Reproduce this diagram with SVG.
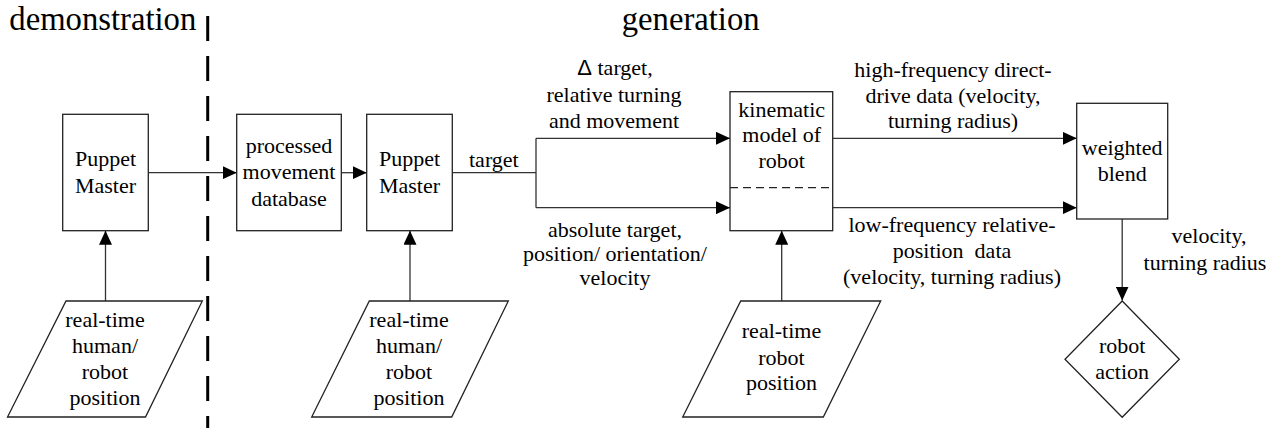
<svg xmlns="http://www.w3.org/2000/svg" width="1272" height="428" viewBox="0 0 1272 428" font-family="Liberation Serif, Tinos, Times New Roman, DejaVu Serif, serif">
<style>
text{font-family:"Liberation Serif",Tinos,"Times New Roman","DejaVu Serif",serif;font-size:22px;fill:#000}
.t{text-anchor:middle}
.title{font-size:32.7px}
.box{fill:#fff;stroke:#222;stroke-width:1.3}
.ln{fill:none;stroke:#333;stroke-width:1.3}
.sep{fill:none;stroke:#000;stroke-width:3;stroke-dasharray:25 15}
.dash{fill:none;stroke:#222;stroke-width:1.3;stroke-dasharray:8 5}
</style>
<defs>
<marker id="ah" markerUnits="userSpaceOnUse" markerWidth="14" markerHeight="13" refX="14" refY="6.5" orient="auto">
<path d="M0,0 L14,6.5 L0,13 z" fill="#000"/>
</marker>
</defs>
<g id="titles">
<text class="title" x="9.3" y="30">demonstration</text>
<text class="title" x="621.7" y="30">generation</text>
<line class="sep" x1="207.7" y1="16" x2="207.7" y2="428"/>
</g>
<g id="connectors">
<line class="ln" x1="148.3" y1="172.7" x2="236.7" y2="172.7" marker-end="url(#ah)"/>
<line class="ln" x1="341.3" y1="172.7" x2="366.7" y2="172.7" marker-end="url(#ah)"/>
<path class="ln" d="M452.3,172.7 H536 M536,138.3 V207.7"/>
<line class="ln" x1="536" y1="138.3" x2="730" y2="138.3" marker-end="url(#ah)"/>
<line class="ln" x1="536" y1="207.7" x2="730" y2="207.7" marker-end="url(#ah)"/>
<line class="ln" x1="832.7" y1="138.3" x2="1076.7" y2="138.3" marker-end="url(#ah)"/>
<line class="ln" x1="832.7" y1="207.7" x2="1076.7" y2="207.7" marker-end="url(#ah)"/>
<line class="ln" x1="1122.2" y1="219" x2="1122.2" y2="300.5" marker-end="url(#ah)"/>
<line class="ln" x1="105.5" y1="301" x2="105.5" y2="230.7" marker-end="url(#ah)"/>
<line class="ln" x1="410" y1="301" x2="410" y2="230.7" marker-end="url(#ah)"/>
<line class="ln" x1="781.7" y1="301" x2="781.7" y2="230.7" marker-end="url(#ah)"/>
<text x="469" y="166.7">target</text>
<text class="t" x="615" y="75"><tspan style="font-family:'Liberation Sans',Arial,sans-serif">Δ</tspan> target,</text>
<text class="t" x="614" y="101.7">relative turning</text>
<text class="t" x="614" y="128.3">and movement</text>
<text class="t" x="615" y="236.5">absolute target,</text>
<text class="t" x="615" y="261">position/ orientation/</text>
<text class="t" x="615" y="284.5">velocity</text>
<text class="t" x="953" y="76.7">high-frequency direct-</text>
<text class="t" x="953" y="102.7">drive data (velocity,</text>
<text class="t" x="953" y="128.3">turning radius)</text>
<text class="t" x="952" y="231.7">low-frequency relative-</text>
<text class="t" x="952" y="258.3" xml:space="preserve">position  data</text>
<text class="t" x="952" y="284.3">(velocity, turning radius)</text>
<text class="t" x="1209" y="243.3">velocity,</text>
<text class="t" x="1205" y="270">turning radius</text>
</g>
<g id="pm1">
<rect class="box" x="62.7" y="114.3" width="85.6" height="116.4"/>
<text class="t" x="105.5" y="165.7">Puppet</text>
<text class="t" x="105.5" y="192.7">Master</text>
</g>
<g id="db">
<rect class="box" x="236.7" y="114.3" width="104.6" height="116.4"/>
<text class="t" x="289" y="152.7">processed</text>
<text class="t" x="289" y="179.3">movement</text>
<text class="t" x="289" y="205.7">database</text>
</g>
<g id="pm2">
<rect class="box" x="366.7" y="114.3" width="85.6" height="116.4"/>
<text class="t" x="409.5" y="165.7">Puppet</text>
<text class="t" x="409.5" y="192.7">Master</text>
</g>
<g id="in1">
<polygon class="box" points="66,301 202.3,301 145.5,417 7.5,417"/>
<text class="t" x="105" y="326.7">real-time</text>
<text class="t" x="105" y="352.7">human/</text>
<text class="t" x="105" y="379">robot</text>
<text class="t" x="105" y="405">position</text>
</g>
<g id="in2">
<polygon class="box" points="369.3,301 508.3,301 451.7,417 311.7,417"/>
<text class="t" x="409" y="326.7">real-time</text>
<text class="t" x="409" y="352.7">human/</text>
<text class="t" x="409" y="379">robot</text>
<text class="t" x="409" y="405">position</text>
</g>
<g id="kin">
<rect class="box" x="730" y="91.7" width="102.7" height="139"/>
<line class="dash" x1="730" y1="187.7" x2="832.7" y2="187.7"/>
<text class="t" x="781.7" y="116.7">kinematic</text>
<text class="t" x="781.7" y="141.7">model of</text>
<text class="t" x="781.7" y="168.3">robot</text>
</g>
<g id="in3">
<polygon class="box" points="740.7,301 880.7,301 823.3,417 682.7,417"/>
<text class="t" x="781.5" y="338.3">real-time</text>
<text class="t" x="781.5" y="365">robot</text>
<text class="t" x="781.5" y="390">position</text>
</g>
<g id="blend">
<rect class="box" x="1076.7" y="103.3" width="91" height="115.7"/>
<text class="t" x="1122.2" y="155">weighted</text>
<text class="t" x="1122.2" y="180.7">blend</text>
</g>
<g id="action">
<polygon class="box" points="1122.2,301 1179.3,359.3 1122.2,417.3 1065,359.3"/>
<text class="t" x="1122.2" y="353.3">robot</text>
<text class="t" x="1122.2" y="379.3">action</text>
</g>
</svg>
